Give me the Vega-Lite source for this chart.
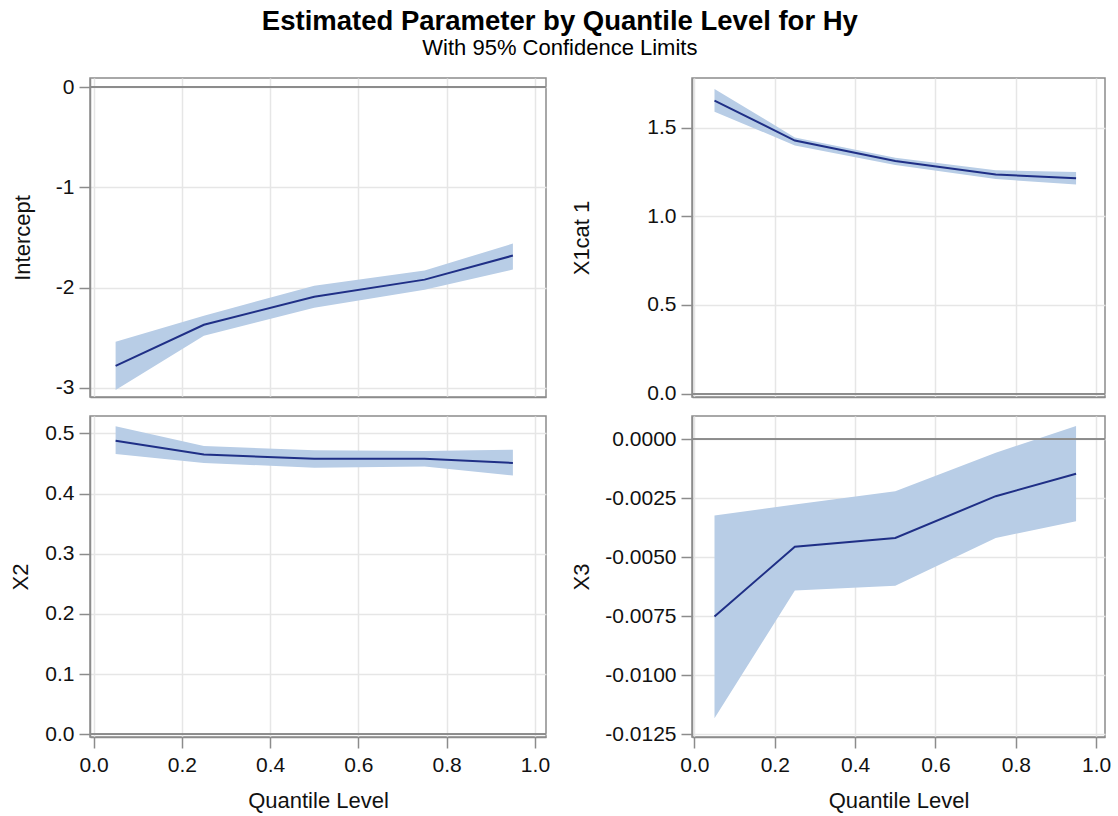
{
  "$schema": "https://vega.github.io/schema/vega-lite/v6.json",
  "autosize": {"type": "pad"},
  "padding": {"left": 8, "top": 7, "right": 4, "bottom": 4},
  "background": "white",
  "title": {
    "text": "Estimated Parameter by Quantile Level for Hy",
    "subtitle": "With 95% Confidence Limits",
    "anchor": "middle",
    "frame": "bounds",
    "font": "Liberation Sans",
    "fontSize": 27.5,
    "fontWeight": "bold",
    "color": "#000000",
    "subtitleFont": "Liberation Sans",
    "subtitleFontSize": 22,
    "subtitleColor": "#000000",
    "subtitlePadding": 3,
    "offset": 16
  },
  "datasets": {
    "est": [
      {"param": "Intercept", "q": 0.05, "est": -2.78, "lo": -3.02, "hi": -2.54},
      {"param": "Intercept", "q": 0.25, "est": -2.37, "lo": -2.48, "hi": -2.28},
      {"param": "Intercept", "q": 0.5, "est": -2.09, "lo": -2.2, "hi": -1.98},
      {"param": "Intercept", "q": 0.75, "est": -1.92, "lo": -2.02, "hi": -1.83},
      {"param": "Intercept", "q": 0.95, "est": -1.68, "lo": -1.82, "hi": -1.56},
      {"param": "X1cat 1", "q": 0.05, "est": 1.653, "lo": 1.59, "hi": 1.718},
      {"param": "X1cat 1", "q": 0.25, "est": 1.427, "lo": 1.4, "hi": 1.445},
      {"param": "X1cat 1", "q": 0.5, "est": 1.312, "lo": 1.29, "hi": 1.33},
      {"param": "X1cat 1", "q": 0.75, "est": 1.236, "lo": 1.21, "hi": 1.26},
      {"param": "X1cat 1", "q": 0.95, "est": 1.214, "lo": 1.18, "hi": 1.25},
      {"param": "X2", "q": 0.05, "est": 0.488, "lo": 0.466, "hi": 0.512},
      {"param": "X2", "q": 0.25, "est": 0.465, "lo": 0.451, "hi": 0.479},
      {"param": "X2", "q": 0.5, "est": 0.458, "lo": 0.443, "hi": 0.472},
      {"param": "X2", "q": 0.75, "est": 0.458, "lo": 0.445, "hi": 0.471},
      {"param": "X2", "q": 0.95, "est": 0.451, "lo": 0.43, "hi": 0.473},
      {"param": "X3", "q": 0.05, "est": -0.00751, "lo": -0.01183, "hi": -0.00323},
      {"param": "X3", "q": 0.25, "est": -0.00455, "lo": -0.00641, "hi": -0.00276},
      {"param": "X3", "q": 0.5, "est": -0.00418, "lo": -0.00621, "hi": -0.0022},
      {"param": "X3", "q": 0.75, "est": -0.00241, "lo": -0.00418, "hi": -0.00057},
      {"param": "X3", "q": 0.95, "est": -0.00146, "lo": -0.00347, "hi": 0.00057}
    ]
  },
  "columns": 2,
  "align": "each",
  "bounds": "flush",
  "spacing": {"column": 146, "row": 19},
  "concat": [
    {
      "width": 456, "height": 319,
      "data": {"name": "est"},
      "transform": [{"filter": "datum.param === 'Intercept'"}],
      "layer": [
        {
          "mark": {"type": "area", "color": "#b8cde6", "opacity": 1},
          "encoding": {
            "x": {"field": "q", "type": "quantitative", "scale": {"domain": [-0.008, 1.025], "nice": false, "zero": false},
                  "axis": {"values": [0, 0.2, 0.4, 0.6, 0.8, 1.0], "labels": false, "ticks": false, "title": null}},
            "y": {"field": "lo", "type": "quantitative", "title": "Intercept",
                  "scale": {"domain": [-3.09, 0.09], "nice": false, "zero": false},
                  "axis": {"values": [0, -1, -2, -3], "format": "d", "titleX": -56}},
            "y2": {"field": "hi"}
          }
        },
        {
          "mark": {"type": "rule", "color": "#8c8c8c", "strokeWidth": 1.5},
          "encoding": {
            "y": {"datum": 0, "type": "quantitative", "title": "Intercept",
                  "scale": {"domain": [-3.09, 0.09], "nice": false, "zero": false}}
          }
        },
        {
          "mark": {"type": "line", "color": "#1f2f86", "strokeWidth": 2},
          "encoding": {
            "x": {"field": "q", "type": "quantitative", "scale": {"domain": [-0.008, 1.025], "nice": false, "zero": false}},
            "y": {"field": "est", "type": "quantitative", "title": "Intercept",
                  "scale": {"domain": [-3.09, 0.09], "nice": false, "zero": false}}
          }
        }
      ]
    },
    {
      "width": 413, "height": 319,
      "data": {"name": "est"},
      "transform": [{"filter": "datum.param === 'X1cat 1'"}],
      "layer": [
        {
          "mark": {"type": "area", "color": "#b8cde6", "opacity": 1},
          "encoding": {
            "x": {"field": "q", "type": "quantitative", "scale": {"domain": [-0.006, 1.022], "nice": false, "zero": false},
                  "axis": {"values": [0, 0.2, 0.4, 0.6, 0.8, 1.0], "labels": false, "ticks": false, "title": null}},
            "y": {"field": "lo", "type": "quantitative", "title": "X1cat 1",
                  "scale": {"domain": [-0.019, 1.78], "nice": false, "zero": false},
                  "axis": {"values": [0, 0.5, 1.0, 1.5], "format": ".1f", "titleX": -99}},
            "y2": {"field": "hi"}
          }
        },
        {
          "mark": {"type": "rule", "color": "#8c8c8c", "strokeWidth": 1.5},
          "encoding": {
            "y": {"datum": 0, "type": "quantitative", "title": "X1cat 1",
                  "scale": {"domain": [-0.019, 1.78], "nice": false, "zero": false}}
          }
        },
        {
          "mark": {"type": "line", "color": "#1f2f86", "strokeWidth": 2},
          "encoding": {
            "x": {"field": "q", "type": "quantitative", "scale": {"domain": [-0.006, 1.022], "nice": false, "zero": false}},
            "y": {"field": "est", "type": "quantitative", "title": "X1cat 1",
                  "scale": {"domain": [-0.019, 1.78], "nice": false, "zero": false}}
          }
        }
      ]
    },
    {
      "width": 456, "height": 321,
      "data": {"name": "est"},
      "transform": [{"filter": "datum.param === 'X2'"}],
      "layer": [
        {
          "mark": {"type": "area", "color": "#b8cde6", "opacity": 1},
          "encoding": {
            "x": {"field": "q", "type": "quantitative", "title": "Quantile Level",
                  "scale": {"domain": [-0.008, 1.025], "nice": false, "zero": false},
                  "axis": {"values": [0, 0.2, 0.4, 0.6, 0.8, 1.0], "format": ".1f"}},
            "y": {"field": "lo", "type": "quantitative", "title": "X2",
                  "scale": {"domain": [-0.0045, 0.529], "nice": false, "zero": false},
                  "axis": {"values": [0, 0.1, 0.2, 0.3, 0.4, 0.5], "format": ".1f", "titleX": -58}},
            "y2": {"field": "hi"}
          }
        },
        {
          "mark": {"type": "rule", "color": "#8c8c8c", "strokeWidth": 1.5},
          "encoding": {
            "y": {"datum": 0, "type": "quantitative", "title": "X2",
                  "scale": {"domain": [-0.0045, 0.529], "nice": false, "zero": false}}
          }
        },
        {
          "mark": {"type": "line", "color": "#1f2f86", "strokeWidth": 2},
          "encoding": {
            "x": {"field": "q", "type": "quantitative", "title": "Quantile Level",
                  "scale": {"domain": [-0.008, 1.025], "nice": false, "zero": false}},
            "y": {"field": "est", "type": "quantitative", "title": "X2",
                  "scale": {"domain": [-0.0045, 0.529], "nice": false, "zero": false}}
          }
        }
      ]
    },
    {
      "width": 413, "height": 321,
      "data": {"name": "est"},
      "transform": [{"filter": "datum.param === 'X3'"}],
      "layer": [
        {
          "mark": {"type": "area", "color": "#b8cde6", "opacity": 1},
          "encoding": {
            "x": {"field": "q", "type": "quantitative", "title": "Quantile Level",
                  "scale": {"domain": [-0.006, 1.022], "nice": false, "zero": false},
                  "axis": {"values": [0, 0.2, 0.4, 0.6, 0.8, 1.0], "format": ".1f"}},
            "y": {"field": "lo", "type": "quantitative", "title": "X3",
                  "scale": {"domain": [-0.01262, 0.00099], "nice": false, "zero": false},
                  "axis": {"values": [0, -0.0025, -0.005, -0.0075, -0.01, -0.0125], "format": ".4f", "titleX": -99}},
            "y2": {"field": "hi"}
          }
        },
        {
          "mark": {"type": "rule", "color": "#8c8c8c", "strokeWidth": 1.5},
          "encoding": {
            "y": {"datum": 0, "type": "quantitative", "title": "X3",
                  "scale": {"domain": [-0.01262, 0.00099], "nice": false, "zero": false}}
          }
        },
        {
          "mark": {"type": "line", "color": "#1f2f86", "strokeWidth": 2},
          "encoding": {
            "x": {"field": "q", "type": "quantitative", "title": "Quantile Level",
                  "scale": {"domain": [-0.006, 1.022], "nice": false, "zero": false}},
            "y": {"field": "est", "type": "quantitative", "title": "X3",
                  "scale": {"domain": [-0.01262, 0.00099], "nice": false, "zero": false}}
          }
        }
      ]
    }
  ],
  "config": {
    "locale": {"number": {"decimal": ".", "thousands": ",", "grouping": [3], "currency": ["$", ""], "minus": "-"}},
    "view": {"stroke": "#8c8c8c", "strokeWidth": 1.5},
    "font": "Liberation Sans",
    "axis": {
      "labelFont": "Liberation Sans",
      "titleFont": "Liberation Sans",
      "labelFontSize": 21,
      "titleFontSize": 22,
      "titleFontWeight": "normal",
      "labelColor": "#111111",
      "titleColor": "#111111",
      "grid": true,
      "gridColor": "#e6e6e6",
      "gridWidth": 1.5,
      "domainColor": "#8c8c8c",
      "domainWidth": 1.5,
      "tickColor": "#8c8c8c",
      "tickWidth": 1.5,
      "tickSize": 11,
      "labelPadding": 5,
      "titlePadding": 15,
      "labelFlush": false,
      "labelOverlap": false
    },
    "axisX": {"labelPadding": 6}
  }
}
